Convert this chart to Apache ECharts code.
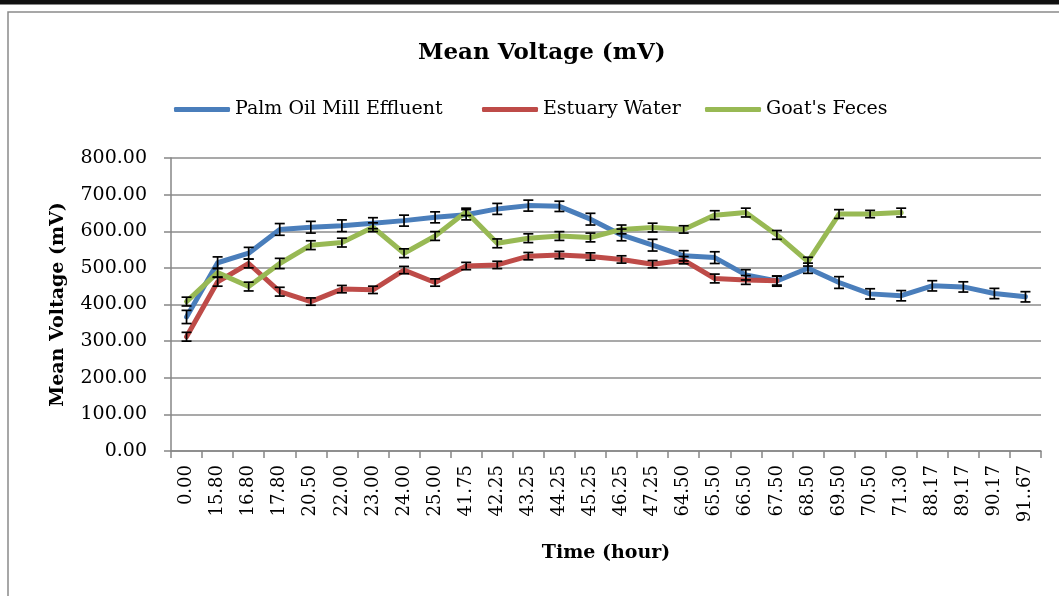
<!DOCTYPE html>
<html>
<head>
<meta charset="utf-8">
<title>Mean Voltage (mV)</title>
<script src="https://cdn.jsdelivr.net/npm/echarts@6/dist/echarts.min.js"></script>
<style>
  html, body { margin: 0; padding: 0; background: #fff; }
  #chart { width: 1059px; height: 596px; }
</style>
</head>
<body>
<div id="chart"></div>
<script>
// time labels (hours) as printed on the x axis
var hours = ['0.00', '15.80', '16.80', '17.80', '20.50', '22.00', '23.00', '24.00', '25.00',
  '41.75', '42.25', '43.25', '44.25', '45.25', '46.25', '47.25', '64.50', '65.50', '66.50',
  '67.50', '68.50', '69.50', '70.50', '71.30', '88.17', '89.17', '90.17', '91..67']

// mean voltage (mV)
var palmOil = [366, 514, 540, 605, 611, 615, 622, 629, 638, 645, 661, 670, 668, 633, 590,
  562, 533, 528, 481, 464, 499, 460, 429, 424, 451, 448, 430, 421]
var estuary = [312, 462, 512, 435, 408, 442, 440, 494, 460, 505, 508, 532, 535, 531, 523,
  510, 521, 471, 467, 465]
var goat = [408, 487, 449, 512, 562, 569, 611, 540, 587, 653, 567, 581, 587, 583, 605,
  610, 605, 644, 651, 590, 517, 647, 647, 651]

// error bar half-lengths (mV)
var palmOilErr = [18, 16, 16, 16, 16, 16, 15, 15, 15, 14, 15, 15, 14, 16, 16, 16, 14, 16,
  14, 14, 14, 16, 14, 14, 14, 14, 14, 14]
var estuaryErr = [12, 12, 12, 12, 10, 10, 10, 10, 10, 10, 10, 10, 10, 10, 10, 10, 10, 12, 12, 12]
var goatErr = [12, 12, 12, 14, 12, 12, 12, 12, 12, 10, 12, 12, 12, 12, 12, 12, 10, 12, 12, 12,
  12, 12, 10, 12]

var seriesNames = ["Palm Oil Mill Effluent", "Estuary Water", "Goat's Feces"]
var colors = ['#4a7ebb', '#be4b48', '#98b954']
var serif = '"DejaVu Serif", serif'

function errData(vals, errs) {
  return vals.map(function (v, i) { return [i, v - errs[i], v + errs[i]] })
}

function renderErr(params, api) {
  var x = api.coord([api.value(0), api.value(1)])[0]
  var lo = api.coord([api.value(0), api.value(1)])[1]
  var hi = api.coord([api.value(0), api.value(2)])[1]
  var half = 5
  var style = { stroke: '#000', lineWidth: 1.7 }
  return {
    type: 'group',
    children: [
      { type: 'line', shape: { x1: x, y1: hi, x2: x, y2: lo }, style: style },
      { type: 'line', shape: { x1: x - half, y1: hi, x2: x + half, y2: hi }, style: style },
      { type: 'line', shape: { x1: x - half, y1: lo, x2: x + half, y2: lo }, style: style }
    ]
  }
}

function lineSeries(name, data, color) {
  return {
    name: name,
    type: 'line',
    data: data,
    symbol: 'none',
    lineStyle: { color: color, width: 5, cap: 'round', join: 'round' },
    itemStyle: { color: color },
    animation: false
  }
}

function errSeries(data) {
  return {
    type: 'custom',
    renderItem: renderErr,
    data: data,
    encode: { x: 0, y: [1, 2] },
    z: 5,
    silent: true,
    animation: false
  }
}

function legendAt(left, name) {
  return {
    data: [name],
    left: left,
    top: 95,
    icon: 'roundRect',
    itemWidth: 56,
    itemHeight: 5,
    selectedMode: false,
    textStyle: { fontFamily: serif, fontSize: 19, color: '#000' }
  }
}

var chart = echarts.init(document.getElementById('chart'))
var option = {
  backgroundColor: '#fff',
  color: colors,
  title: {
    text: 'Mean Voltage (mV)',
    left: 413,
    top: 37,
    textStyle: { fontFamily: serif, fontSize: 23, fontWeight: 'bold', color: '#000' }
  },
  legend: [
    legendAt(169, seriesNames[0]),
    legendAt(477, seriesNames[1]),
    legendAt(700, seriesNames[2])
  ],
  graphic: [
    { type: 'rect', shape: { x: 0, y: 0, width: 1059, height: 4.5 }, style: { fill: '#111' } },
    { type: 'rect', shape: { x: 8, y: 12, width: 1100, height: 600 },
      style: { fill: 'none', stroke: '#8a8a8a', lineWidth: 1.5 } }
  ],
  grid: { left: 171, right: 18, top: 158, bottom: 145 },
  xAxis: {
    type: 'category',
    data: hours,
    boundaryGap: true,
    name: 'Time (hour)',
    nameLocation: 'middle',
    nameGap: 93,
    nameTextStyle: { fontFamily: serif, fontSize: 19, fontWeight: 'bold', color: '#000' },
    axisLine: { lineStyle: { color: '#868686', width: 1.5 } },
    axisTick: { show: true, length: 7, inside: false, lineStyle: { color: '#868686', width: 1.5 } },
    axisLabel: {
      rotate: 90,
      interval: 0,
      margin: 14,
      fontFamily: serif,
      fontSize: 18,
      color: '#000'
    },
    splitLine: { show: false }
  },
  yAxis: {
    type: 'value',
    min: 0,
    max: 800,
    interval: 100,
    name: 'Mean Voltage (mV)',
    nameLocation: 'middle',
    nameGap: 103,
    nameTextStyle: { fontFamily: serif, fontSize: 19, fontWeight: 'bold', color: '#000' },
    axisLine: { show: true, lineStyle: { color: '#868686', width: 1.5 } },
    axisTick: { show: true, length: 7, lineStyle: { color: '#868686', width: 1.5 } },
    axisLabel: {
      margin: 24,
      fontFamily: serif,
      fontSize: 19,
      color: '#000',
      formatter: function (v) { return v.toFixed(2) }
    },
    splitLine: { lineStyle: { color: '#8c8c8c', width: 1.5 } }
  },
  series: [
    lineSeries(seriesNames[0], palmOil, colors[0]),
    lineSeries(seriesNames[1], estuary, colors[1]),
    lineSeries(seriesNames[2], goat, colors[2]),
    errSeries(errData(palmOil, palmOilErr)),
    errSeries(errData(estuary, estuaryErr)),
    errSeries(errData(goat, goatErr))
  ]
}
chart.setOption(option)
</script>
</body>
</html>
